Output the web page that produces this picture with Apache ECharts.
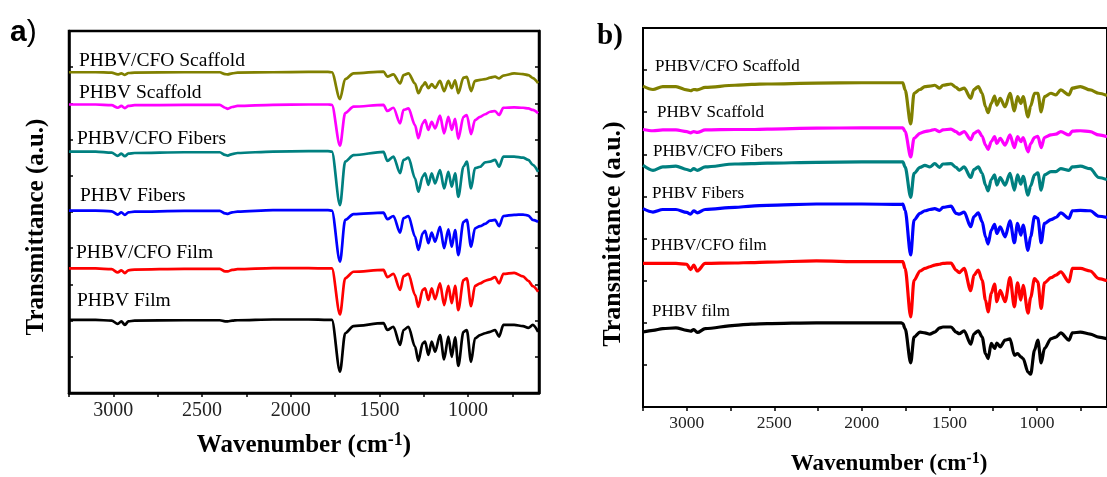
<!DOCTYPE html>
<html>
<head>
<meta charset="utf-8">
<title>FTIR spectra of PHBV and PHBV/CFO samples</title>
<script src="https://cdn.jsdelivr.net/npm/echarts@6/dist/echarts.min.js"></script>
<style>
  html, body { margin: 0; padding: 0; background: #fff; }
  #chart { width: 1107px; height: 477px; }
</style>
</head>
<body>
<div id="chart"></div>
<script>
// panel a) wavenumbers (cm-1), shared by its six spectra
const waveA = [3250, 3100, 3010, 2975, 2955, 2935, 2915, 2880, 2600, 2400, 2370, 2355, 2330, 2300, 2100, 1900, 1790,
  1768, 1722, 1693, 1646, 1477, 1455, 1421, 1383, 1364, 1336, 1299, 1280, 1256, 1242, 1224, 1205, 1186, 1158, 1135, 1111,
  1092, 1073, 1055, 1026, 1007, 983, 961, 932, 904, 876, 848, 825, 801,
  740, 690, 660, 635, 605]

// panel a) transmittance, stacked (a.u.)
const cfoScaffoldA = [8.86, 8.86, 8.85, 8.80, 8.83, 8.79, 8.84, 8.85, 8.86, 8.86, 8.81, 8.80, 8.83, 8.85, 8.86, 8.87, 8.87,
  8.86, 8.12, 8.67, 8.83, 8.88, 8.74, 8.80, 8.55, 8.78, 8.83, 8.55, 8.28, 8.49, 8.58, 8.42, 8.53, 8.43, 8.62, 8.34, 8.62,
  8.42, 8.64, 8.28, 8.71, 8.73, 8.34, 8.62, 8.65, 8.67, 8.71, 8.74, 8.69, 8.77,
  8.83, 8.81, 8.78, 8.70, 8.56]
const scaffoldA = [7.97, 7.97, 7.95, 7.88, 7.93, 7.87, 7.93, 7.95, 7.96, 7.96, 7.88, 7.85, 7.90, 7.93, 7.96, 7.97, 7.97,
  7.96, 6.83, 7.73, 7.91, 7.96, 7.79, 7.88, 7.45, 7.82, 7.86, 7.40, 7.04, 7.45, 7.54, 7.27, 7.49, 7.31, 7.66, 7.17, 7.63,
  7.27, 7.57, 7.02, 7.63, 7.68, 7.15, 7.54, 7.63, 7.70, 7.77, 7.79, 7.68, 7.88,
  7.89, 7.88, 7.86, 7.82, 7.73]
const cfoFibersA = [6.67, 6.67, 6.64, 6.55, 6.61, 6.54, 6.61, 6.63, 6.65, 6.65, 6.58, 6.56, 6.60, 6.63, 6.67, 6.68, 6.68,
  6.67, 5.19, 6.39, 6.57, 6.66, 6.41, 6.53, 6.07, 6.44, 6.50, 5.93, 5.56, 5.98, 6.07, 5.75, 6.07, 5.79, 6.16, 5.65, 6.11,
  5.70, 6.07, 5.42, 6.25, 6.39, 5.65, 6.21, 6.25, 6.37, 6.39, 6.44, 6.25, 6.53,
  6.53, 6.50, 6.44, 6.30, 6.11]
const fibersA = [5.04, 5.04, 5.02, 4.93, 4.99, 4.92, 4.99, 5.01, 5.03, 5.03, 4.96, 4.95, 4.99, 5.01, 5.05, 5.05, 5.05,
  5.04, 3.63, 4.78, 4.94, 4.98, 4.80, 4.89, 4.43, 4.83, 4.89, 4.32, 3.95, 4.41, 4.48, 4.14, 4.43, 4.18, 4.59, 4.00, 4.52,
  4.04, 4.50, 3.81, 4.73, 4.78, 4.04, 4.55, 4.61, 4.67, 4.76, 4.78, 4.61, 4.89,
  4.92, 4.93, 4.90, 4.78, 4.73]
const cfoFilmA = [3.44, 3.44, 3.42, 3.33, 3.39, 3.31, 3.39, 3.41, 3.43, 3.43, 3.36, 3.36, 3.40, 3.42, 3.45, 3.45, 3.44,
  3.44, 2.17, 3.17, 3.35, 3.40, 3.20, 3.29, 2.85, 3.23, 3.29, 2.71, 2.38, 2.85, 2.89, 2.57, 2.89, 2.59, 3.03, 2.43, 2.96,
  2.48, 2.96, 2.29, 3.12, 3.17, 2.40, 2.96, 3.03, 3.10, 3.14, 3.20, 3.03, 3.29,
  3.32, 3.22, 3.10, 2.95, 2.80]
const filmA = [2.02, 2.02, 2.00, 1.91, 1.98, 1.88, 1.98, 2.00, 2.01, 2.01, 1.98, 1.98, 2.00, 2.01, 2.03, 2.03, 2.02,
  2.02, 0.59, 1.65, 1.85, 1.93, 1.74, 1.83, 1.33, 1.74, 1.83, 1.28, 0.89, 1.37, 1.42, 1.05, 1.42, 1.14, 1.60, 0.93, 1.56,
  1.00, 1.54, 0.75, 1.69, 1.74, 0.86, 1.51, 1.60, 1.65, 1.69, 1.74, 1.56, 1.88,
  1.88, 1.85, 1.80, 1.88, 1.69]

// panel b) wavenumbers (cm-1)
const waveB = [3250, 3193, 3137, 3062, 3000, 2978, 2960, 2940, 2895, 2725, 2630, 2540, 2260, 2000, 1775,
  1766, 1753, 1721, 1702, 1668, 1640, 1612, 1584, 1556, 1537, 1491, 1462, 1444, 1416, 1378,
  1360, 1335, 1313, 1294, 1279, 1261, 1242, 1229, 1210, 1182, 1154, 1129, 1111, 1092, 1079,
  1051, 1036, 1014, 995, 976, 957, 920, 892, 864, 817, 798, 752, 696, 647, 600]

// panel b) transmittance, stacked (a.u.)
const cfoScaffoldB = [7.62, 7.54, 7.61, 7.61, 7.53, 7.51, 7.54, 7.53, 7.59, 7.64, 7.66, 7.67, 7.69, 7.70, 7.70,
  7.70, 7.53, 6.72, 7.45, 7.54, 7.61, 7.62, 7.64, 7.57, 7.64, 7.67, 7.59, 7.53, 7.57, 7.33,
  7.54, 7.61, 7.45, 7.13, 6.99, 7.21, 7.38, 7.17, 7.33, 7.13, 7.45, 7.03, 7.37, 7.21, 7.37,
  6.89, 7.15, 7.45, 7.45, 7.01, 7.37, 7.45, 7.41, 7.53, 7.41, 7.57, 7.61, 7.53, 7.45, 7.40]
const scaffoldB = [6.59, 6.56, 6.58, 6.58, 6.54, 6.51, 6.54, 6.52, 6.58, 6.59, 6.59, 6.60, 6.62, 6.63, 6.63,
  6.63, 6.54, 5.94, 6.38, 6.50, 6.54, 6.56, 6.59, 6.54, 6.58, 6.60, 6.54, 6.48, 6.54, 6.35,
  6.50, 6.56, 6.43, 6.22, 6.12, 6.30, 6.42, 6.26, 6.38, 6.22, 6.46, 6.16, 6.42, 6.30, 6.40,
  6.06, 6.25, 6.40, 6.43, 6.16, 6.40, 6.46, 6.48, 6.54, 6.46, 6.55, 6.56, 6.54, 6.46, 6.42]
const cfoFibersB = [5.74, 5.62, 5.70, 5.72, 5.64, 5.61, 5.66, 5.62, 5.70, 5.77, 5.78, 5.79, 5.81, 5.82, 5.82,
  5.82, 5.70, 4.98, 5.55, 5.69, 5.74, 5.70, 5.78, 5.69, 5.77, 5.78, 5.69, 5.62, 5.70, 5.45,
  5.64, 5.70, 5.55, 5.27, 5.13, 5.40, 5.51, 5.27, 5.45, 5.27, 5.55, 5.15, 5.51, 5.29, 5.48,
  5.03, 5.25, 5.51, 5.56, 5.15, 5.51, 5.59, 5.59, 5.66, 5.62, 5.70, 5.72, 5.66, 5.45, 5.40]
const fibersB = [4.71, 4.63, 4.69, 4.69, 4.62, 4.58, 4.66, 4.61, 4.69, 4.74, 4.77, 4.79, 4.82, 4.82, 4.81,
  4.82, 4.67, 3.61, 4.44, 4.60, 4.66, 4.69, 4.71, 4.67, 4.74, 4.77, 4.60, 4.58, 4.63, 4.28,
  4.52, 4.61, 4.40, 4.04, 3.87, 4.20, 4.34, 4.12, 4.28, 4.04, 4.42, 3.90, 4.36, 4.08, 4.32,
  3.72, 4.05, 4.52, 4.48, 3.90, 4.36, 4.45, 4.50, 4.61, 4.48, 4.66, 4.67, 4.66, 4.53, 4.50]
const cfoFilmB = [3.41, 3.41, 3.41, 3.41, 3.39, 3.26, 3.37, 3.23, 3.41, 3.42, 3.43, 3.44, 3.47, 3.45, 3.45,
  3.45, 3.29, 2.14, 3.01, 3.23, 3.29, 3.33, 3.37, 3.39, 3.41, 3.42, 3.25, 3.19, 3.29, 2.76,
  3.13, 3.25, 3.01, 2.54, 2.26, 2.70, 2.92, 2.50, 2.77, 2.50, 3.07, 2.38, 2.95, 2.54, 2.89,
  2.23, 2.60, 3.05, 2.97, 2.34, 2.95, 3.07, 3.13, 3.21, 2.97, 3.29, 3.29, 3.23, 3.05, 3.00]
const filmB = [1.78, 1.82, 1.86, 1.88, 1.82, 1.80, 1.84, 1.77, 1.86, 1.94, 1.97, 1.98, 2.00, 2.00, 2.00,
  1.98, 1.86, 1.05, 1.66, 1.78, 1.76, 1.73, 1.78, 1.88, 1.90, 1.90, 1.78, 1.74, 1.81, 1.49,
  1.74, 1.81, 1.66, 1.27, 1.15, 1.51, 1.39, 1.52, 1.43, 1.59, 1.62, 1.23, 1.27, 1.19, 1.15,
  0.83, 0.78, 1.35, 1.59, 1.05, 1.39, 1.62, 1.66, 1.76, 1.59, 1.76, 1.78, 1.73, 1.66, 1.62]

// axis ticks and labels
const tickWaves = [3250, 3000, 2750, 2500, 2250, 2000, 1750, 1500, 1250, 1000, 750]
const labelWaves = [3000, 2500, 2000, 1500, 1000]

const namesA = ['PHBV/CFO Scaffold', 'PHBV Scaffold', 'PHBV/CFO Fibers', 'PHBV Fibers', 'PHBV/CFO Film', 'PHBV Film']
const namesB = ['PHBV/CFO Scaffold', 'PHBV Scaffold', 'PHBV/CFO Fibers', 'PHBV Fibers', 'PHBV/CFO film', 'PHBV film']
const colors = ['#808000', '#ff00ff', '#008080', '#0000ff', '#ff0000', '#000000']

const serif = 'Liberation Serif'

const seriesA = [cfoScaffoldA, scaffoldA, cfoFibersA, fibersA, cfoFilmA, filmA]
const seriesB = [cfoScaffoldB, scaffoldB, cfoFibersB, fibersB, cfoFilmB, filmB]

// label anchors (left, middle) for the sample names
const labelPosA = [[79, 61], [79, 93], [77, 139], [80, 196], [76, 253], [77, 301]]
const labelPosB = [[655, 67], [657, 113], [653, 152], [652, 194], [651, 246], [652, 312]]

function spectrum (name, waves, values, color, width, xIdx, yIdx) {
  return {
    name: name,
    type: 'line',
    xAxisIndex: xIdx,
    yAxisIndex: yIdx,
    data: waves.map((w, i) => [w, values[i]]),
    symbol: 'none',
    smooth: 0.3,
    smoothMonotone: 'x',
    lineStyle: { color: color, width: width, join: 'round' },
    itemStyle: { color: color },
    silent: true
  }
}

function xAxisFor (grid, lineW, fontSize, margin) {
  return {
    type: 'value',
    gridIndex: grid,
    min: 600,
    max: 3250,
    inverse: true,
    axisLine: { show: true, onZero: false, lineStyle: { color: '#000', width: lineW } },
    axisTick: { show: true, inside: false, length: 4, customValues: tickWaves, lineStyle: { color: '#000', width: 1.5 } },
    axisLabel: {
      show: true, customValues: labelWaves, margin: margin, color: '#222',
      fontFamily: serif, fontSize: fontSize, formatter: (v) => String(v)
    },
    splitLine: { show: false }
  }
}

function yAxisFor (grid, max, pos, lineW) {
  return {
    type: 'value',
    gridIndex: grid,
    position: pos,
    min: 0,
    max: max,
    interval: 1,
    axisLine: { show: true, onZero: false, lineStyle: { color: '#000', width: lineW } },
    axisTick: { show: true, inside: true, length: 4, lineStyle: { color: '#000', width: 1.5 } },
    axisLabel: { show: false },
    splitLine: { show: false }
  }
}

const series = []
seriesA.forEach((vals, i) => series.push(spectrum(namesA[i] + ' a', waveA, vals, colors[i], 2.7, 0, 0)))
seriesB.forEach((vals, i) => series.push(spectrum(namesB[i] + ' b', waveB, vals, colors[i], 3.2, 1, 2)))

const graphics = []
namesA.forEach((t, i) => graphics.push({
  type: 'text', x: labelPosA[i][0], y: labelPosA[i][1],
  style: { text: t, fill: '#000', font: '19.5px "Liberation Serif"', verticalAlign: 'middle' }
}))
namesB.forEach((t, i) => graphics.push({
  type: 'text', x: labelPosB[i][0], y: labelPosB[i][1],
  style: { text: t, fill: '#000', font: '17px "Liberation Serif"', verticalAlign: 'middle' }
}))

// panel letters
graphics.push({
  type: 'text', x: 10, y: 33,
  style: {
    text: '{l|a}{p|)}', verticalAlign: 'middle',
    rich: {
      l: { fontFamily: 'Liberation Sans', fontWeight: 'bold', fontSize: 30, fill: '#000' },
      p: { fontFamily: 'Liberation Sans', fontSize: 30, fill: '#000' }
    }
  }
})
graphics.push({
  type: 'text', x: 597, y: 37,
  style: { text: 'b)', fill: '#000', font: 'bold 29px "Liberation Serif"', verticalAlign: 'middle' }
})

// axis titles
function xTitle (cx, cy, size, sup) {
  return {
    type: 'text', x: cx, y: cy,
    style: {
      text: '{a|Wavenumber (cm}{s|-1}{a|)}', align: 'center', verticalAlign: 'middle',
      rich: {
        a: { fontFamily: serif, fontWeight: 'bold', fontSize: size, fill: '#000', lineHeight: size + 4 },
        s: { fontFamily: serif, fontWeight: 'bold', fontSize: sup, fill: '#000', verticalAlign: 'top', lineHeight: sup }
      }
    }
  }
}
function yTitle (cx, cy, size) {
  return {
    type: 'text', x: cx, y: cy, rotation: Math.PI / 2,
    style: { text: 'Transmittance (a.u.)', fill: '#000', font: 'bold ' + size + 'px "Liberation Serif"', align: 'center', verticalAlign: 'middle' }
  }
}
graphics.push(xTitle(304, 446, 25, 18))
graphics.push(xTitle(889, 464, 23, 16))
graphics.push(yTitle(37, 227, 25))
graphics.push(yTitle(613, 234, 26))

const chart = echarts.init(document.getElementById('chart'), null, { renderer: 'canvas' })
chart.setOption({
  animation: false,
  backgroundColor: '#fff',
  grid: [
    { left: 69, top: 31, width: 470, height: 362, show: true, borderColor: '#000', borderWidth: 2.5, containLabel: false },
    { left: 643, top: 28, width: 472, height: 379, show: true, borderColor: '#000', borderWidth: 2, containLabel: false }
  ],
  xAxis: [xAxisFor(0, 2.5, 20, 8), xAxisFor(1, 2, 17.5, 7)],
  yAxis: [yAxisFor(0, 10, 'left', 2.5), yAxisFor(0, 10, 'right', 2.5), yAxisFor(1, 9, 'left', 2)],
  series: series,
  graphic: graphics
})
</script>
</body>
</html>
